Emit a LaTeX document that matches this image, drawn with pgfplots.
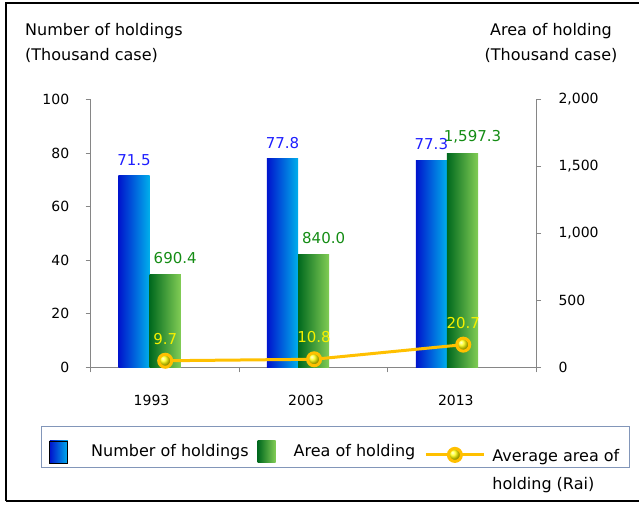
\documentclass[border=0pt]{standalone}
\usepackage{pgfplots}
\pgfplotsset{compat=1.18}
\usepackage{fontspec}
\setmainfont{DejaVu Sans}
\definecolor{bluedark}{RGB}{0,20,205}
\definecolor{bluelight}{RGB}{0,175,235}
\definecolor{greendark}{RGB}{0,105,30}
\definecolor{greenmid}{RGB}{0,165,70}
\definecolor{greenlight}{RGB}{130,205,85}
\definecolor{axisgray}{RGB}{134,134,134}
\definecolor{lineorange}{RGB}{255,192,0}
\definecolor{lblblue}{RGB}{30,30,255}
\definecolor{lblgreen}{RGB}{20,140,20}
\definecolor{lblyellow}{RGB}{245,240,0}
\definecolor{legborder}{RGB}{130,150,185}
\pgfdeclareplotmark{ball}{\shade[ball color=yellow] (0,0) circle (6.5pt);}
\pgfplotsset{
  /pgf/number format/assume math mode=true,
  common/.style={
    scale only axis, width=445.3pt, height=268pt,
    at={(90.7pt,-367.3pt)}, anchor=south west,
    xmin=0, xmax=3,
    tick align=outside, major tick length=5pt,
    axis line style={axisgray, line width=0.8pt},
    tick style={axisgray, line width=0.8pt},
    tick label style={font=\fontsize{14}{17}\selectfont, text=black},
  },
  bluebar/.style={ybar, bar width=0.21, bar shift=0pt, draw=none,
    left color=bluedark, right color=bluelight,
    nodes near coords, point meta=y,
    nodes near coords style={font=\fontsize{15}{18}\selectfont, text=lblblue, anchor=south, inner sep=0pt, text depth=0pt, yshift=10pt,
      /pgf/number format/.cd, fixed, fixed zerofill, precision=1}},
  greenbar/.style={ybar, bar width=0.21, bar shift=0pt, draw=none,
    left color=greendark, middle color=greenmid, right color=greenlight,
    nodes near coords, point meta=y,
    nodes near coords style={font=\fontsize{15}{18}\selectfont, text=lblgreen, anchor=south, inner sep=0pt, text depth=0pt, yshift=11.5pt, xshift=10pt,
      /pgf/number format/.cd, fixed, fixed zerofill, precision=1, 1000 sep={,}}},
}
\begin{document}
\begin{tikzpicture}
\useasboundingbox (0,0) rectangle (639pt,-504pt);
\draw[black, line width=2pt] (6pt,-501pt) -- (6pt,-3pt) -- (639pt,-3pt);
\draw[black, line width=2pt] (6pt,-501pt) -- (639pt,-501pt);
\node[anchor=base west, inner sep=0pt, font=\fontsize{16}{19}\selectfont] at (25pt,-35.7pt) {Number of holdings};
\node[anchor=base west, inner sep=0pt, font=\fontsize{16}{19}\selectfont] at (25pt,-60pt) {(Thousand case)};
\node[anchor=base, inner sep=0pt, font=\fontsize{16}{19}\selectfont] at (551pt,-35.7pt) {Area of holding};
\node[anchor=base, inner sep=0pt, font=\fontsize{16}{19}\selectfont] at (551pt,-60pt) {(Thousand case)};

\begin{axis}[common,
  axis x line*=bottom, axis y line*=left,
  ymin=0, ymax=100, ytick={0,20,...,100},
  yticklabel shift=13pt,
  xtick={0,1,2,3}, xticklabels={},
  extra x ticks={0.41,1.45,2.46}, extra x tick labels={1993,2003,2013},
  extra x tick style={major tick length=0pt, xticklabel style={anchor=base, inner sep=0pt, yshift=-37.7pt}},
]
\addplot[bluebar] coordinates {(0.292,71.5)};
\addplot[bluebar] coordinates {(1.292,77.8)};
\addplot[bluebar] coordinates {(2.295,77.3)};
\end{axis}

\begin{axis}[common,
  axis x line=none, axis y line*=right,
  ymin=0, ymax=2000, ytick={0,500,...,2000},
  yticklabel shift=14pt,
  /pgf/number format/1000 sep={,},
  legend style={at={(axis description cs:-0.1116,-0.219)}, anchor=north west,
    draw=legborder, line width=0.8pt, inner xsep=8pt, inner ysep=4pt,
    font=\fontsize{16}{19.2}\selectfont,
    cells={anchor=base west, inner sep=0pt},
    /tikz/every odd column/.append style={column sep=0pt},
    /tikz/every even column/.append style={column sep=7pt}},
  legend columns=3,
]
\addlegendimage{legend image code/.code={
  \shade[left color=bluedark, right color=bluelight] (0pt,-6pt) rectangle (18pt,16pt);
  \path (0pt,25pt) (39pt,0pt);}}
\addlegendentry{Number of holdings}
\addplot[greenbar,
  legend image code/.code={
    \shade[left color=greendark, middle color=greenmid, right color=greenlight] (0pt,-6pt) rectangle (18pt,16pt);
    \path (0pt,25pt) (34pt,0pt);}]
  coordinates {(0.502,690.4)};
\addlegendentry{Area of holding}
\addplot[greenbar, forget plot] coordinates {(1.502,840.0)};
\addplot[greenbar, forget plot] coordinates {(2.505,1597.3)};
\addplot[lineorange, line width=3pt, mark=ball,
  nodes near coords, point meta=explicit symbolic,
  nodes near coords style={font=\fontsize{15}{18}\selectfont, text=lblyellow, anchor=south, inner sep=0pt, text depth=0pt, yshift=15pt},
  legend image code/.code={
    \draw[lineorange, line width=3pt] (0pt,2pt) -- (58pt,2pt);
    \shade[ball color=yellow] (29pt,2pt) circle (6.5pt);
    \path (0pt,25pt) (63pt,0pt);}]
  coordinates {(0.502,49) [9.7] (1.505,60) [10.8] (2.51,169) [20.7]};
\addlegendentry{\raisebox{-5pt}{\begin{tabular}[t]{@{}l@{}}Average area of\\[8pt]holding (Rai)\end{tabular}}}
\end{axis}
\end{tikzpicture}
\end{document}
